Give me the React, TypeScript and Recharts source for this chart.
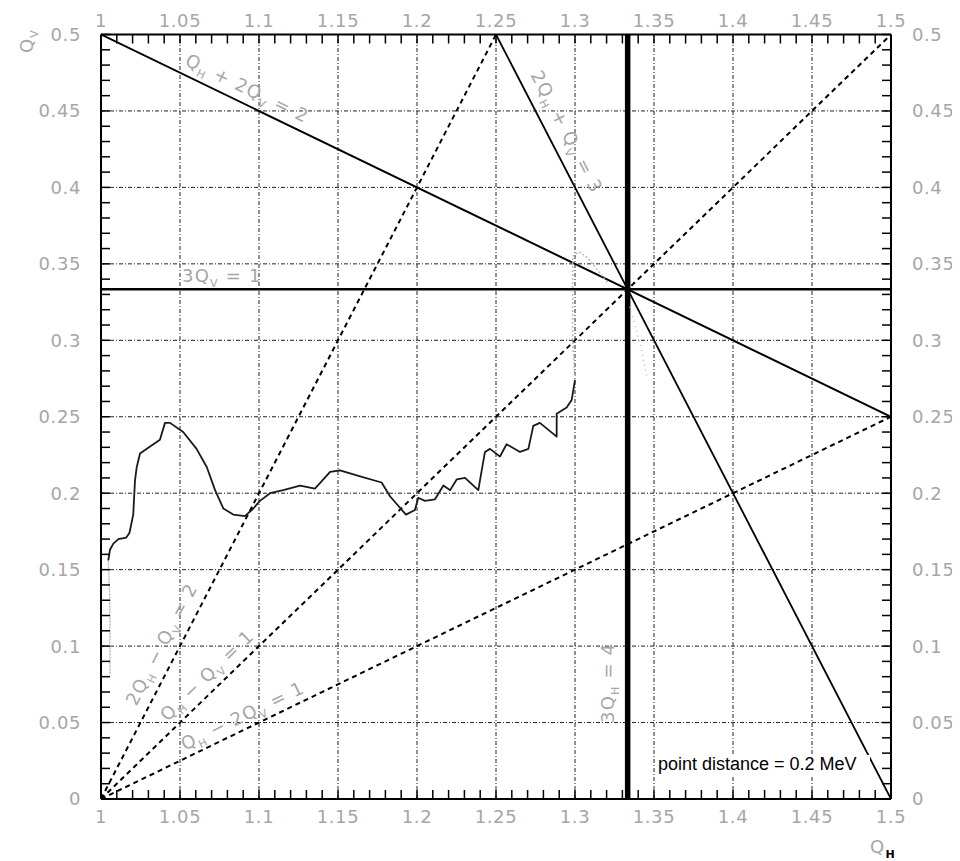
import {
  ComposedChart,
  Line,
  ReferenceDot,
  ReferenceLine,
  XAxis,
  YAxis
} from 'recharts';

// axis ticks (major, labelled)
const qhMajor = [1, 1.05, 1.1, 1.15, 1.2, 1.25, 1.3, 1.35, 1.4, 1.45, 1.5];
const qhLabels = ['1', '1.05', '1.1', '1.15', '1.2', '1.25', '1.3', '1.35', '1.4', '1.45', '1.5'];
const qvMajor = [0, 0.05, 0.1, 0.15, 0.2, 0.25, 0.3, 0.35, 0.4, 0.45, 0.5];
const qvLabels = ['0', '0.05', '0.1', '0.15', '0.2', '0.25', '0.3', '0.35', '0.4', '0.45', '0.5'];

// measured tune scan
const scanQh = [
  1.0046, 1.0057, 1.0078, 1.011, 1.016, 1.018, 1.0204, 1.0215, 1.0226, 1.0247,
  1.029, 1.0373, 1.0405, 1.0437, 1.052, 1.0605, 1.067, 1.0722, 1.0774, 1.0837,
  1.0911, 1.0964, 1.1006, 1.107, 1.1154, 1.126, 1.1354, 1.145, 1.1513, 1.164,
  1.1776, 1.1829, 1.193, 1.1987, 1.2008, 1.205, 1.2114, 1.2167, 1.221, 1.2251,
  1.2304, 1.2388, 1.243, 1.2462, 1.2525, 1.2567, 1.2652, 1.2705, 1.2736, 1.2778,
  1.2884, 1.2884, 1.2947, 1.2979, 1.3
];
const scanQv = [
  0.156, 0.163, 0.167, 0.17, 0.171, 0.174, 0.186, 0.208, 0.217, 0.226,
  0.229, 0.235, 0.246, 0.246, 0.24, 0.229, 0.217, 0.202, 0.19, 0.186,
  0.185, 0.19, 0.195, 0.2, 0.202, 0.205, 0.203, 0.214, 0.215, 0.211,
  0.207, 0.198, 0.186, 0.189, 0.197, 0.195, 0.196, 0.205, 0.202, 0.209,
  0.21, 0.202, 0.227, 0.229, 0.224, 0.232, 0.227, 0.229, 0.244, 0.246,
  0.237, 0.252, 0.256, 0.261, 0.274
];

// faint ends of the scan
const startTailQh = [1.0046, 1.0056, 1.0057, 1.0057];
const startTailQv = [0.156, 0.13, 0.1, 0.082];
const endTailQh = [1.3, 1.2985, 1.2985, 1.3025, 1.308, 1.315, 1.321];
const endTailQv = [0.274, 0.3, 0.355, 0.358, 0.354, 0.345, 0.337];
const strayQh = [1.3345, 1.338, 1.3425, 1.344, 1.3455];
const strayQv = [0.322, 0.31, 0.292, 0.283, 0.276];

// resonance lines, end points
const sumTwo = [[1, 0.5], [1.5, 0.25]]; // Qh + 2Qv = 2
const sumThree = [[1.25, 0.5], [1.5, 0]]; // 2Qh + Qv = 3
const diffTwo = [[1, 0], [1.25, 0.5]]; // 2Qh - Qv = 2
const diffOne = [[1, 0], [1.5, 0.5]]; // Qh - Qv = 1
const diffHalf = [[1, 0], [1.5, 0.25]]; // Qh - 2Qv = 1
const thirdQv = 1 / 3;
const thirdQh = 4 / 3;

const toRows = (qh: number[], qv: number[]) => qh.map((h, i) => ({ qh: h, qv: qv[i] }));
const pairRows = (pts: number[][]) => pts.map(([h, v]) => ({ qh: h, qv: v }));

const withMinor = (major: number[]) =>
  major.flatMap((v, i) =>
    i === major.length - 1 ? [v] : [0, 1, 2, 3, 4].map((k) => +(v + k * 0.01).toFixed(2))
  );

const FONT = '"DejaVu Sans", sans-serif';
const GREY = '#a6a6a6';
const TICK = 9;

type Side = 'top' | 'bottom' | 'left' | 'right';

function makeTick(side: Side, major: number[], labels: string[]) {
  return (props: any) => {
    const { x, y, payload } = props;
    const idx = major.findIndex((m) => Math.abs(m - payload.value) < 1e-6);
    const text = idx >= 0 ? labels[idx] : null;
    const common = { fill: GREY, fontSize: 18, fontFamily: FONT, letterSpacing: 0.6 };
    if (side === 'bottom')
      return (
        <g>
          <line x1={x} y1={y} x2={x} y2={y - TICK} stroke='#000' strokeWidth={1.5} />
          {text && <text x={x} y={y + 24} textAnchor='middle' {...common}>{text}</text>}
        </g>
      );
    if (side === 'top')
      return (
        <g>
          <line x1={x} y1={y} x2={x} y2={y + TICK} stroke='#000' strokeWidth={1.5} />
          {text && <text x={x} y={y - 8} textAnchor='middle' {...common}>{text}</text>}
        </g>
      );
    if (side === 'left')
      return (
        <g>
          <line x1={x} y1={y} x2={x + TICK} y2={y} stroke='#000' strokeWidth={1.5} />
          {text && <text x={x - 20} y={y} dy='0.36em' textAnchor='end' {...common}>{text}</text>}
        </g>
      );
    return (
      <g>
        <line x1={x} y1={y} x2={x - TICK} y2={y} stroke='#000' strokeWidth={1.5} />
        {text && <text x={x + 21} y={y} dy='0.36em' textAnchor='start' {...common}>{text}</text>}
      </g>
    );
  };
}

type Part = [string, boolean];

function Rich({ parts, subFill }: { parts: Part[]; subFill?: string }) {
  return (
    <>
      {parts.map(([t, sub], i) => {
        const prevSub = i > 0 && parts[i - 1][1];
        const dy = sub ? 5 : prevSub ? -5 : 0;
        return (
          <tspan
            key={i}
            dy={dy}
            fontSize={sub ? 11 : undefined}
            fill={sub && subFill ? subFill : undefined}
            fontWeight={sub && subFill ? 'bold' : undefined}
          >
            {t}
          </tspan>
        );
      })}
    </>
  );
}

type Note = {
  qh: number;
  qv: number;
  parts: Part[];
  angle: number;
  lift?: number;
  ox?: number;
  oy?: number;
  fill?: string;
  subFill?: string;
  size?: number;
  backdrop?: number[];
};

const notes: Note[] = [
  { qh: 1.05, qv: 0.475, angle: 25.8, lift: -9,
    parts: [['Q', false], ['H', true], [' + 2Q', false], ['V', true], [' = 2', false]] },
  { qh: 1.265, qv: 0.47, angle: 62.7, lift: -12,
    parts: [['2Q', false], ['H', true], [' + Q', false], ['V', true], [' = 3', false]] },
  { qh: 1.0513, qv: thirdQv, angle: 0, lift: -7,
    parts: [['3Q', false], ['V', true], [' = 1', false]] },
  { qh: thirdQh, qv: 0.0497, angle: -90, lift: -14,
    parts: [['3Q', false], ['H', true], [' = 4', false]] },
  { qh: 1.0285, qv: 0.057, angle: -62.7, lift: -11,
    parts: [['2Q', false], ['H', true], [' \u2212 Q', false], ['V', true], [' = 2', false]] },
  { qh: 1.046, qv: 0.046, angle: -44.06, lift: -9,
    parts: [['Q', false], ['H', true], [' \u2212 Q', false], ['V', true], [' = 1', false]] },
  { qh: 1.055, qv: 0.0275, angle: -25.8, lift: -7,
    parts: [['Q', false], ['H', true], [' \u2212 2Q', false], ['V', true], [' = 1', false]] },
  { qh: 1.3525, qv: 0.019, angle: 0, fill: '#000', size: 18,
    backdrop: [2, -15, 210, 21],
    parts: [['point distance = 0.2 MeV', false]] },
  { qh: 1, qv: 0.5, angle: -90, ox: -68, oy: 18.5,
    parts: [['Q', false], ['V', true]] },
  { qh: 1.5, qv: 0, angle: 0, ox: -21, oy: 54, subFill: '#000',
    parts: [['Q', false], ['H', true]] }
];

function renderNote(n: Note) {
  return (props: any) => {
    const vb = props.viewBox || {};
    const x = (vb.x ?? 0) + (vb.width ?? 0) / 2 + (n.ox ?? 0);
    const y = (vb.y ?? 0) + (vb.height ?? 0) / 2 + (n.oy ?? 0);
    return (
      <g transform={`translate(${x},${y}) rotate(${n.angle}) translate(0,${n.lift ?? 0})`}>
        {n.backdrop && (
          <rect x={n.backdrop[0]} y={n.backdrop[1]} width={n.backdrop[2]} height={n.backdrop[3]} fill='#fff' />
        )}
        <text
          x={0}
          y={0}
          fill={n.fill ?? GREY}
          fontSize={n.size ?? 18}
          fontFamily={n.fill ? '"Liberation Sans", Arial, sans-serif' : FONT}
          letterSpacing={n.fill ? 0 : 1.2}
        >
          <Rich parts={n.parts} subFill={n.subFill} />
        </text>
      </g>
    );
  };
}

const gridStyle = { stroke: '#222', strokeWidth: 1, strokeDasharray: '4 2 1 2' };

function TuneDiagram() {
  const qhTicks = withMinor(qhMajor);
  const qvTicks = withMinor(qvMajor);
  const axisLine = { stroke: '#000', strokeWidth: 2 };

  return (
    <ComposedChart width={952} height={853} margin={{ top: 0, right: 0, bottom: 0, left: 0 }}>
      <XAxis
        type='number'
        dataKey='qh'
        domain={[1, 1.5]}
        ticks={qhTicks}
        interval={0}
        tickSize={0}
        tickMargin={0}
        tickLine={false}
        axisLine={axisLine}
        height={62}
        allowDataOverflow
        tick={makeTick('bottom', qhMajor, qhLabels)}
      />
      <XAxis
        xAxisId='top'
        orientation='top'
        type='number'
        dataKey='qh'
        domain={[1, 1.5]}
        ticks={qhTicks}
        interval={0}
        tickSize={0}
        tickMargin={0}
        tickLine={false}
        axisLine={axisLine}
        height={26.5}
        allowDataOverflow
        tick={makeTick('top', qhMajor, qhLabels)}
      />
      <YAxis
        type='number'
        dataKey='qv'
        domain={[0, 0.5]}
        ticks={qvTicks}
        interval={0}
        tickSize={0}
        tickMargin={0}
        tickLine={false}
        axisLine={axisLine}
        width={93}
        allowDataOverflow
        tick={makeTick('left', qvMajor, qvLabels)}
      />
      <YAxis
        yAxisId='right'
        orientation='right'
        type='number'
        dataKey='qv'
        domain={[0, 0.5]}
        ticks={qvTicks}
        interval={0}
        tickSize={0}
        tickMargin={0}
        tickLine={false}
        axisLine={axisLine}
        width={69}
        allowDataOverflow
        tick={makeTick('right', qvMajor, qvLabels)}
      />

      {qhMajor.slice(1, -1).map((v) => (
        <ReferenceLine key={`gx${v}`} x={v} {...gridStyle} />
      ))}
      {qvMajor.slice(1, -1).map((v) => (
        <ReferenceLine key={`gy${v}`} y={v} {...gridStyle} />
      ))}

      {/* resonance lines */}
      <Line data={pairRows(diffTwo)} dataKey='qv' stroke='#000' strokeWidth={2} strokeDasharray='5 4' dot={false} isAnimationActive={false} />
      <Line data={pairRows(diffOne)} dataKey='qv' stroke='#000' strokeWidth={2} strokeDasharray='5 4' dot={false} isAnimationActive={false} />
      <Line data={pairRows(diffHalf)} dataKey='qv' stroke='#000' strokeWidth={2} strokeDasharray='5 4' dot={false} isAnimationActive={false} />
      <Line data={pairRows(sumTwo)} dataKey='qv' stroke='#000' strokeWidth={2} dot={false} isAnimationActive={false} />
      <Line data={pairRows(sumThree)} dataKey='qv' stroke='#000' strokeWidth={1.8} dot={false} isAnimationActive={false} />
      <ReferenceLine y={thirdQv} stroke='#000' strokeWidth={2.5} />
      <ReferenceLine x={thirdQh} stroke='#000' strokeWidth={5.5} />

      {/* scan */}
      <Line data={toRows(startTailQh, startTailQv)} dataKey='qv' stroke='#bbb' strokeWidth={1.5} strokeDasharray='2 1' dot={false} isAnimationActive={false} />
      <Line data={toRows(endTailQh, endTailQv)} dataKey='qv' stroke='#bbb' strokeWidth={1.5} strokeDasharray='2 2' dot={false} isAnimationActive={false} />
      <Line data={toRows(strayQh, strayQv)} dataKey='qv' stroke='#bbb' strokeWidth={1.5} strokeDasharray='1 4' dot={false} isAnimationActive={false} />
      <Line
        data={toRows(scanQh, scanQv)}
        dataKey='qv'
        stroke='#1a1a1a'
        strokeWidth={1.8}
        strokeLinejoin='round'
        dot={false}
        isAnimationActive={false}
      />

      {notes.map((n, i) => (
        <ReferenceDot
          key={`n${i}`}
          x={n.qh}
          y={n.qv}
          r={0}
          fill='none'
          stroke='none'
          ifOverflow='visible'
          label={renderNote(n)}
        />
      ))}
    </ComposedChart>
  );
}

export default function App() {
  return <TuneDiagram />;
}
